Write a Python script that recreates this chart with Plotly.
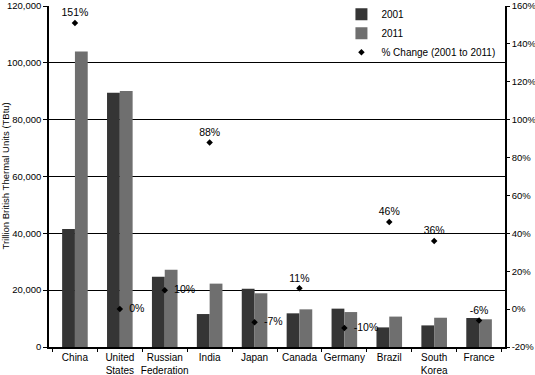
import plotly.graph_objects as go

countries = ["China", "United States", "Russian Federation", "India", "Japan",
             "Canada", "Germany", "Brazil", "South Korea", "France"]
tick_labels = ["China", "United<br>States", "Russian<br>Federation", "India", "Japan",
               "Canada", "Germany", "Brazil", "South<br>Korea", "France"]
values_2001 = [41500, 89500, 24700, 11600, 20500, 11850, 13500, 6900, 7600, 10200]
values_2011 = [104000, 90100, 27200, 22300, 18900, 13250, 12300, 10700, 10300, 9750]
pct_change = [151, 0, 10, 88, -7, 11, -10, 46, 36, -6]
pct_labels = ["151%", "0%", "10%", "88%", "-7%", "11%", "-10%", "46%", "36%", "-6%"]
label_pos = ["top center", "middle right", "middle right", "top center", "middle right",
             "top center", "middle right", "top center", "top center", "top center"]
left_ticks = [0, 20000, 40000, 60000, 80000, 100000, 120000]
right_ticks = [-20, 0, 20, 40, 60, 80, 100, 120, 140, 160]
right_tick_labels = ["-20%", "0%", "20%", "40%", "60%", "80%", "100%", "120%", "140%", "160%"]

FONT = "Liberation Sans, Arial, sans-serif"

templates = ["\u2002%{text}" if p == "middle right" else "%{text}" for p in label_pos]

fig = go.Figure()
fig.add_trace(go.Bar(x=countries, y=values_2001, name="2001",
                     marker=dict(color="#353535", line=dict(width=0))))
fig.add_trace(go.Bar(x=countries, y=values_2011, name="2011",
                     marker=dict(color="#6f6f6f", line=dict(width=0))))
fig.add_trace(go.Scatter(x=countries, y=pct_change, name="% Change (2001 to 2011)",
                         yaxis="y2", mode="markers+text",
                         marker=dict(symbol="diamond", size=5, color="black"),
                         text=pct_labels, texttemplate=templates,
                         textposition=label_pos,
                         textfont=dict(size=10.5, color="#000000", family=FONT),
                         cliponaxis=False))

fig.add_annotation(text="Trillion British Thermal Units (TBtu)", textangle=-90,
                   xref="paper", yref="paper", x=0, y=0.5, xshift=-44,
                   xanchor="center", yanchor="middle", showarrow=False,
                   font=dict(size=9.5, family=FONT, color="black"))

fig.update_layout(
    width=535, height=375,
    margin=dict(l=49, r=30, t=6, b=28, autoexpand=False),
    paper_bgcolor="white", plot_bgcolor="white",
    font=dict(family=FONT, size=10, color="black"),
    barmode="group", bargap=0.43, bargroupgap=0,
    showlegend=True,
    legend=dict(x=0.99, y=1.018, xanchor="right", yanchor="top",
                bgcolor="rgba(0,0,0,0)", borderwidth=0,
                font=dict(size=10, family=FONT, color="black"),
                tracegroupgap=0, itemwidth=30),
    xaxis=dict(tickmode="array", tickvals=countries, ticktext=tick_labels,
               tickangle=0, tickfont=dict(size=10),
               showline=True, linecolor="black", linewidth=1.5,
               ticks="outside", tickson="boundaries", ticklen=3, tickcolor="black",
               showgrid=False, automargin=False, mirror=False),
    yaxis=dict(range=[0, 120000], tickmode="array", tickvals=left_ticks,
               tickformat=",", tickfont=dict(size=9.5),
               showline=True, linecolor="black", linewidth=1.5,
               gridcolor="black", gridwidth=1, zeroline=False,
               ticks="outside", ticklen=4, tickcolor="black",
               automargin=False),
    yaxis2=dict(range=[-20, 160], tickmode="array", tickvals=right_ticks,
                ticktext=right_tick_labels, tickfont=dict(size=9.5),
                overlaying="y",
                side="right", showgrid=False, zeroline=False,
                showline=True, linecolor="black", linewidth=1.5,
                ticks="outside", ticklen=3, tickcolor="black",
                automargin=False),
)

fig.write_html("out.html", config={"displayModeBar": False},
               post_script="document.body.style.margin='0';document.body.style.overflow='hidden';")
